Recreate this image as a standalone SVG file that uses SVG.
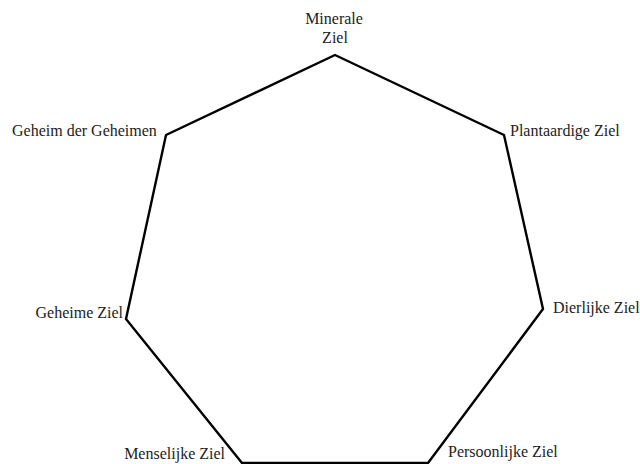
<svg xmlns="http://www.w3.org/2000/svg" width="640" height="464" viewBox="0 0 640 464">
<style>
.lbl{font-family:"Liberation Serif","Times New Roman",serif;font-size:16px;fill:#222;}
.edge{fill:none;stroke:#000;stroke-width:2.4;stroke-linejoin:miter;}
</style>
<rect width="640" height="464" fill="#fff"/>
<g id="connectors">
<polygon class="edge" points="335,55 504,135 543,309 428,463 242,463 126,319 166,135"/>
</g>
<g id="minerale"><text class="lbl" x="334" y="24" text-anchor="middle">Minerale</text><text class="lbl" x="335" y="43" text-anchor="middle">Ziel</text></g>
<g id="plantaardige"><text class="lbl" x="510" y="136">Plantaardige Ziel</text></g>
<g id="dierlijke"><text class="lbl" x="553" y="313">Dierlijke Ziel</text></g>
<g id="persoonlijke"><text class="lbl" x="448" y="457">Persoonlijke Ziel</text></g>
<g id="menselijke"><text class="lbl" x="225" y="459" text-anchor="end">Menselijke Ziel</text></g>
<g id="geheime"><text class="lbl" x="123" y="318" text-anchor="end">Geheime Ziel</text></g>
<g id="geheim"><text class="lbl" x="12" y="136">Geheim der Geheimen</text></g>
</svg>
